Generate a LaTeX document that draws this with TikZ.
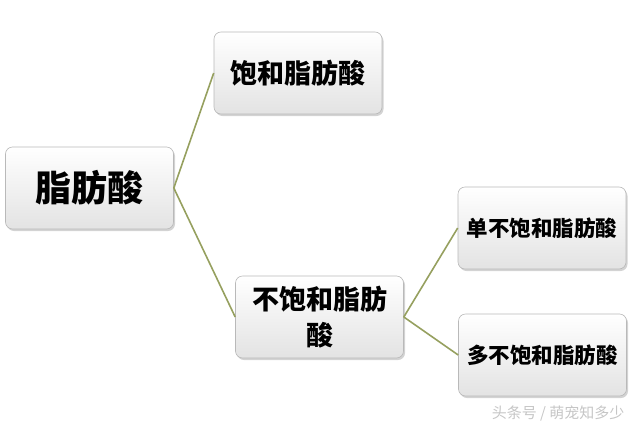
\documentclass[tikz,border=0pt]{standalone}
\usepackage{fontspec}
\newfontfamily\cjk{Noto Sans CJK SC}
\usetikzlibrary{shadows}
\definecolor{linkgreen}{RGB}{150,160,95}
\tikzset{
  box/.style={draw=gray!55, line width=0.6pt, rounded corners=7pt,
    top color=white, bottom color=gray!22, minimum width=168pt,
    minimum height=82pt, inner sep=0pt, align=center,
    font=\cjk\bfseries,
    drop shadow={shadow xshift=1.5pt, shadow yshift=-2pt, opacity=0.35}},
  link/.style={draw=linkgreen, line width=1.6pt}
}
\begin{document}
\begin{tikzpicture}[x=1pt,y=-1pt]
\useasboundingbox (0,0) rectangle (640,426);
\node[box, font=\cjk\bfseries\fontsize{36}{40}\selectfont] (fa) at (89.5,188){脂肪酸};
\node[box, font=\cjk\bfseries\fontsize{27}{30}\selectfont] (sat) at (298,73){饱和脂肪酸};
\node[box, font=\cjk\bfseries\fontsize{27}{36}\selectfont] (unsat) at (319.5,317){不饱和脂肪\\酸};
\node[box, font=\cjk\bfseries\fontsize{21.5}{24}\selectfont] (mono) at (542,228){单不饱和脂肪酸};
\node[box, font=\cjk\bfseries\fontsize{21.5}{24}\selectfont] (poly) at (542.5,355){多不饱和脂肪酸};
\draw[link] (fa.east) -- (sat.west);
\draw[link] (fa.east) -- (unsat.west);
\draw[link] (unsat.east) -- (mono.west);
\draw[link] (unsat.east) -- (poly.west);
\node[text=gray!45, font=\cjk\fontsize{15}{18}\selectfont, anchor=east] (mark) at (628,413){头条号 / 萌宠知多少};
\end{tikzpicture}
\end{document}
